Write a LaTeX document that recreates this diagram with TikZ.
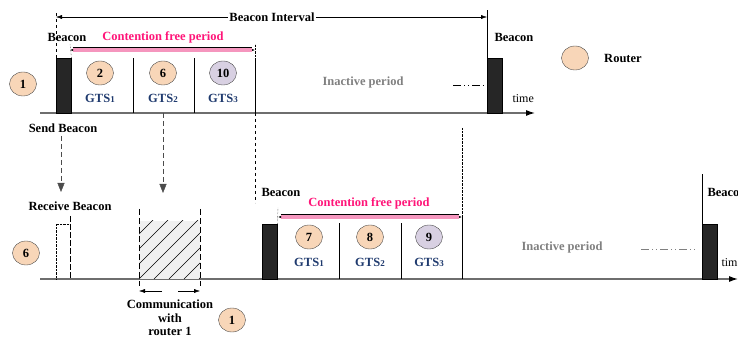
\documentclass[tikz,border=0pt]{standalone}
\usepackage{fontspec}
\setmainfont{Liberation Serif}
\usetikzlibrary{arrows.meta,positioning,calc,shapes.geometric}

\definecolor{peach}{RGB}{248,214,184}
\definecolor{lilac}{RGB}{216,208,226}
\definecolor{cfppink}{RGB}{245,150,190}
\definecolor{cfptext}{RGB}{255,20,120}
\definecolor{gtsblue}{RGB}{31,58,110}
\definecolor{axisgray}{RGB}{110,110,110}

\begin{document}
\begin{tikzpicture}[x=1pt, y=1pt,
  font=\fontsize{12.5}{13.5}\selectfont\bfseries,
  numnode/.style={ellipse, draw=black!70, fill=peach, minimum width=27pt, minimum height=24pt, inner sep=0pt},
  gtsnode/.style={numnode, label={[text=gtsblue, label distance=5pt]below:{GTS{\fontsize{9}{10}\selectfont #1}}}},
  beaconblock/.style={draw=black, fill=black!85, minimum width=15pt, minimum height=55pt, inner sep=0pt, anchor=south west},
  timeaxis/.style={draw=axisgray, line width=1.2pt, -{Latex[black, length=9pt, width=6pt]}},
  cfparrow/.style={draw=black, line width=0.7pt, double=cfppink, double distance=3.6pt, {Latex[length=3pt]}-{Latex[length=3pt]}},
  cfplabel/.style={text=cfptext},
  sendarrow/.style={draw=black!70, dash pattern=on 5pt off 3pt, -{Triangle[fill=black!70, length=9pt, width=7pt]}},
  idle/.style={dash pattern=on 8pt off 3pt on 1pt off 3pt on 1pt off 3pt},
  timelabel/.style={font=\fontsize{12}{14}\selectfont\mdseries, anchor=west}]
\useasboundingbox (0,0) rectangle (738,340);

% router 1: beacon interval
\coordinate (axA0) at (40,227);
\coordinate (axA1) at (535,227);
\draw[timeaxis] (axA0) -- (axA1);
\node[beaconblock] (bA) at (56,227) {};
\node[beaconblock] (bA2) at (487,227) {};
\draw[dashed] (bA.north west) -- (56,330);
\draw (bA2.south west) -- (487,330);
\coordinate (biL) at (56,323);
\coordinate (biR) at (487,323);
\draw[{Latex[length=6pt,width=4pt]}-{Latex[length=6pt,width=4pt]}] (biL) -- (biR);
\node[fill=white, inner sep=1pt] (bi) at (272,323) {Beacon Interval};
\node (lbA) at (67,303) {Beacon};
\node[anchor=west] (lbA2) at (491,303) {Beacon};
\foreach \x in {133,194,255}
  \draw (\x,227) -- (\x,282);
\coordinate (cfpA0) at (70,290);
\coordinate (cfpA1) at (255,290);
\draw[densely dotted] (bA.north east) -- (70,296);
\draw[densely dotted] (255,282) -- (255,296);
\draw[cfparrow] (cfpA0) -- (cfpA1);
\node[cfplabel] (cfpA) at (163,303) {Contention free period};
\node[numnode] (r1) at (23,256) {1};
\node[gtsnode=1] (s2) at (100,267) {2};
\node[gtsnode=2] (s6) at (163,267) {6};
\node[gtsnode=3, fill=lilac] (s10) at (223,267) {10};
\node[text=black!50] (inA) at (363,258) {Inactive period};
\draw[idle] (453,255) -- (485,255);
\node[timelabel] (tA) at (509,241) {time};

% legend
\node[numnode] (rt) at (575,282) {};
\node[right=12pt of rt] (rtlbl) {Router};

% beacon relayed to router 6
\node (send) at (63,212) {Send Beacon};
\coordinate (rcvtop) at (61,148);
\draw[sendarrow] (send.south -| rcvtop) -- (rcvtop);
\draw[sendarrow] (s6 |- axA0) -- (163,147);
\draw[dashed] (255,227) -- (255,137);
\draw[densely dotted] (462,212) -- (462,123);

% router 6: own superframe
\coordinate (axB0) at (40,61);
\coordinate (axB1) at (738,61);
\draw[timeaxis] (axB0) -- (axB1);
\node (rcv) at (70,134) {Receive Beacon};
\draw[densely dotted] (56,61) |- (70,116);
\draw[dash pattern=on 6pt off 2pt] (70,124) -- (70,61);
\node[numnode] (r6) at (26,87) {6};

\fill[black!6] (139,61) rectangle (200,119);
\begin{scope}
  \clip (139,61) rectangle (200,119);
  \foreach \s in {-60,-45,...,60}
    \draw[thin] (139+\s,61) -- ++(80,80);
\end{scope}
\draw[dash pattern=on 6pt off 3pt] (139,131) -- (139,54);
\draw[dash pattern=on 6pt off 3pt] (200,131) -- (200,54);
\draw[-{Latex[length=6pt,width=4pt]}] (162,49) -- (139,49);
\draw[-{Latex[length=6pt,width=4pt]}] (178,49) -- (200,49);
\node[align=center] (comm) at (170,22) {Communication\\with\\router 1};
\node[numnode] (r1b) at (232,20) {1};

\node[beaconblock] (bB) at (262,61) {};
\node[beaconblock] (bB2) at (702,61) {};
\draw (bB2.south west) -- (702,166);
\node[anchor=west] (lbB) at (258,148) {Beacon};
\node[anchor=west] (lbB2) at (704,148) {Beacon};
\foreach \x in {339,401}
  \draw (\x,61) -- (\x,117);
\draw (462,61) -- (462,123);
\coordinate (cfpB0) at (278,123);
\coordinate (cfpB1) at (462,123);
\draw[densely dotted] (bB.north east) -- (278,132);
\draw[cfparrow] (cfpB0) -- (cfpB1);
\node[cfplabel] (cfpB) at (369,137) {Contention free period};
\node[gtsnode=1] (s7) at (309,103) {7};
\node[gtsnode=2] (s8) at (370,103) {8};
\node[gtsnode=3, fill=lilac] (s9) at (429,103) {9};
\node[text=black!50] (inB) at (562,93) {Inactive period};
\draw[idle, draw=black!50] (641,91) -- (697,91);
\node[timelabel] (tB) at (718,77) {time};
\end{tikzpicture}
\end{document}
